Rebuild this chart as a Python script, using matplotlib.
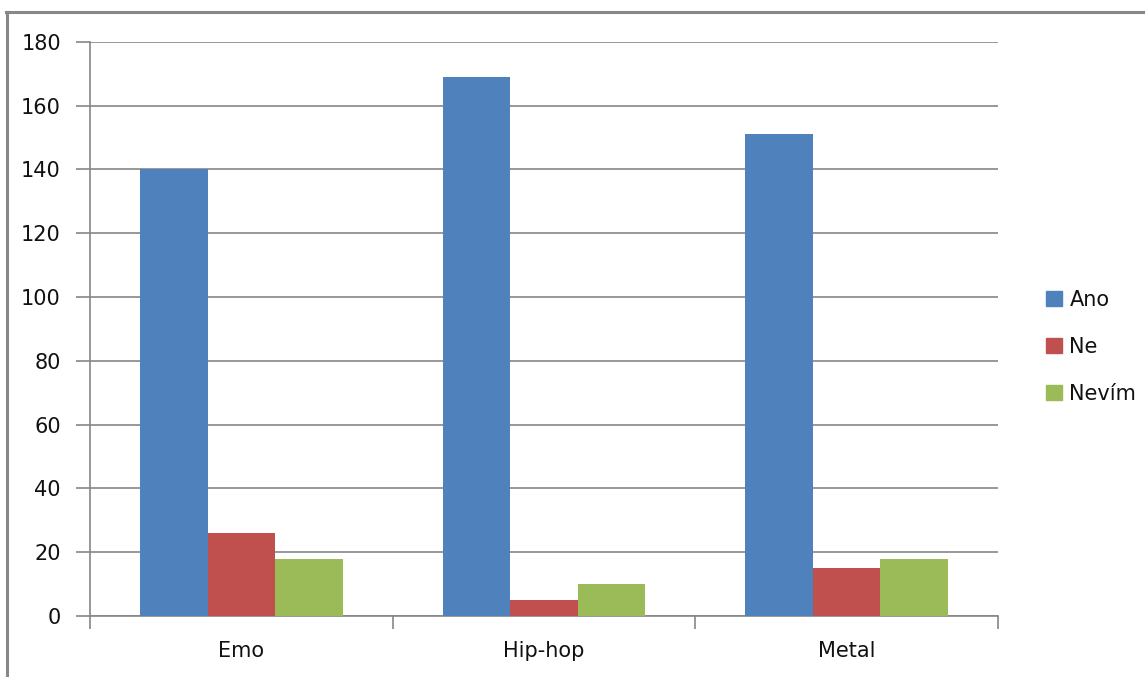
import matplotlib
matplotlib.use("Agg")
import matplotlib.pyplot as plt
from matplotlib.lines import Line2D
import numpy as np

categories = ["Emo", "Hip-hop", "Metal"]
series_names = ["Ano", "Ne", "Nevím"]
ano = [140, 169, 151]
ne = [26, 5, 15]
nevim = [18, 10, 18]
colors = ["#4F81BD", "#C0504D", "#9BBB59"]
yticks = [0, 20, 40, 60, 80, 100, 120, 140, 160, 180]

W, H = 1145, 677
fig = plt.figure(figsize=(W / 100, H / 100), dpi=100)
ax = fig.add_axes([90 / W, 1 - 616 / H, (998 - 90) / W, (616 - 41.7) / H])

grid_c = "#868686"
x = np.arange(len(categories))
bw = 0.223
for i, (vals, name, c) in enumerate(zip([ano, ne, nevim], series_names, colors)):
    ax.bar(x + (i - 1) * bw, vals, width=bw, color=c, label=name, zorder=3)

ax.set_xlim(-0.5, len(categories) - 0.5)
ax.set_ylim(0, 180)
ax.set_yticks(yticks)
ax.set_yticklabels([str(t) for t in yticks])
ax.yaxis.grid(True, color=grid_c, linewidth=1.2, zorder=0)
ax.set_axisbelow(True)

ax.set_xticks(x)
ax.set_xticklabels(categories)
ax.set_xticks(np.arange(len(categories) + 1) - 0.5, minor=True)
ax.tick_params(axis="x", which="major", length=0, pad=18, labelsize=15, labelcolor="#111111")
ax.tick_params(axis="x", which="minor", length=9, width=1.2, color=grid_c, direction="out")
ax.tick_params(axis="y", length=10, width=1.2, color=grid_c, direction="out", pad=11,
               labelsize=15, labelcolor="#111111")

for s in ["top", "right"]:
    ax.spines[s].set_visible(False)
for s in ["left", "bottom"]:
    ax.spines[s].set_color(grid_c)
    ax.spines[s].set_linewidth(1.2)

handles = [plt.Rectangle((0, 0), 1, 1, color=c) for c in colors]
leg = fig.legend(handles, series_names, loc="center left", bbox_to_anchor=(1036 / W, 1 - 347 / H),
                 frameon=False, fontsize=15, handlelength=0.75, handleheight=0.75,
                 handletextpad=0.35, labelspacing=1.3, borderpad=0)
for t in leg.get_texts():
    t.set_color("#111111")

# outer frame (top and left only visible)
fig.add_artist(Line2D([7 / W, 7 / W], [0, 1 - 11.5 / H], transform=fig.transFigure,
                      color="#888888", linewidth=2.2))
fig.add_artist(Line2D([6 / W, 1], [1 - 11.5 / H, 1 - 11.5 / H], transform=fig.transFigure,
                      color="#888888", linewidth=2.2))

fig.savefig("out.png", dpi=100)
